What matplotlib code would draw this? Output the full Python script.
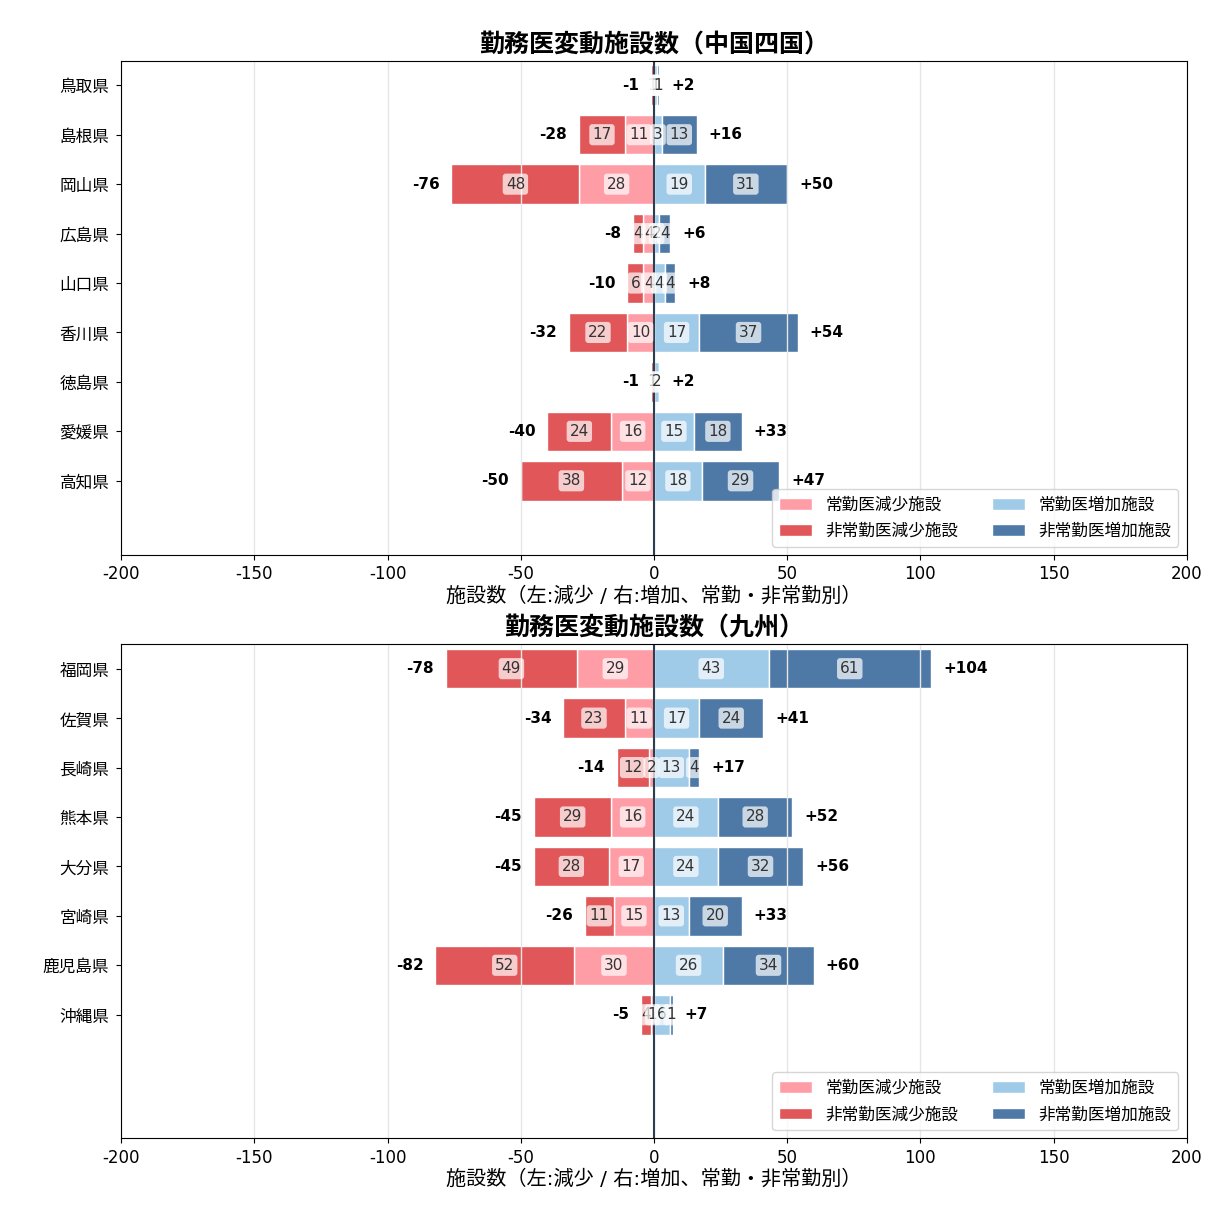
import numpy as np
import matplotlib
matplotlib.use('Agg')
import matplotlib.pyplot as plt

plt.rcParams['font.family'] = ['DejaVu Sans', 'Noto Sans CJK JP']
plt.rcParams['axes.unicode_minus'] = False

# %% data
cs_prefs = ['鳥取県', '島根県', '岡山県', '広島県', '山口県', '香川県', '徳島県', '愛媛県', '高知県']
cs_reg_dec = [0, 11, 28, 4, 4, 10, 0, 16, 12]
cs_non_dec = [1, 17, 48, 4, 6, 22, 1, 24, 38]
cs_reg_inc = [1, 3, 19, 2, 4, 17, 2, 15, 18]
cs_non_inc = [1, 13, 31, 4, 4, 37, 0, 18, 29]

ky_prefs = ['福岡県', '佐賀県', '長崎県', '熊本県', '大分県', '宮崎県', '鹿児島県', '沖縄県']
ky_reg_dec = [29, 11, 2, 16, 17, 15, 30, 1]
ky_non_dec = [49, 23, 12, 29, 28, 11, 52, 4]
ky_reg_inc = [43, 17, 13, 24, 24, 13, 26, 6]
ky_non_inc = [61, 24, 4, 28, 32, 20, 34, 1]

c_reg_dec = '#FF9DA7'
c_non_dec = '#E15759'
c_reg_inc = '#A0CBE8'
c_non_inc = '#4E79A7'


def draw_panel(ax, title, prefs, reg_dec, non_dec, reg_inc, non_inc):
    y = np.arange(len(prefs))
    reg_dec = np.array(reg_dec)
    non_dec = np.array(non_dec)
    reg_inc = np.array(reg_inc)
    non_inc = np.array(non_inc)
    kw = dict(height=0.8, edgecolor='white', linewidth=1)
    ax.barh(y, -reg_dec, color=c_reg_dec, label='常勤医減少施設', **kw)
    ax.barh(y, -non_dec, left=-reg_dec, color=c_non_dec, label='非常勤医減少施設', **kw)
    ax.barh(y, reg_inc, color=c_reg_inc, label='常勤医増加施設', **kw)
    ax.barh(y, non_inc, left=reg_inc, color=c_non_inc, label='非常勤医増加施設', **kw)

    bb = dict(boxstyle='round,pad=0.2', fc='white', ec='none', alpha=0.7)
    for i in range(len(prefs)):
        segs = [(-reg_dec[i] - non_dec[i] / 2, non_dec[i]),
                (-reg_dec[i] / 2, reg_dec[i]),
                (reg_inc[i] / 2, reg_inc[i]),
                (reg_inc[i] + non_inc[i] / 2, non_inc[i])]
        for xc, v in segs:
            if v > 0:
                ax.text(xc, i, str(v), ha='center', va='center', fontsize=11,
                        color='#333333', bbox=bb)
        dec = reg_dec[i] + non_dec[i]
        inc = reg_inc[i] + non_inc[i]
        ax.text(-dec - 4.5, i, f'-{dec}', ha='right', va='center',
                fontsize=11, fontweight='bold')
        ax.text(inc + 4.5, i, f'+{inc}', ha='left', va='center',
                fontsize=11, fontweight='bold')

    ax.axvline(0, color='#2C3E50', linewidth=1.5)
    ax.set_yticks(y)
    ax.set_yticklabels(prefs, fontsize=12)
    ax.set_ylim(9.5, -0.5)
    ax.set_xlim(-200, 200)
    ax.tick_params(axis='x', labelsize=12, pad=4)
    ax.tick_params(axis='y', pad=5)
    ax.grid(axis='x', color='#E6E6E6', linewidth=1)
    ax.set_xlabel('施設数（左:減少 / 右:増加、常勤・非常勤別）', fontsize=14.5,
                  labelpad=2)
    ax.set_title(title, fontsize=18, fontweight='bold', pad=6)
    ax.legend(loc='lower right', ncol=2, fontsize=12)


fig, (ax1, ax2) = plt.subplots(2, 1, figsize=(12.11, 12.11), dpi=100)
fig.subplots_adjust(left=0.1, right=0.98, top=0.95, bottom=0.06, hspace=0.18)

draw_panel(ax1, '勤務医変動施設数（中国四国）', cs_prefs,
           cs_reg_dec, cs_non_dec, cs_reg_inc, cs_non_inc)
draw_panel(ax2, '勤務医変動施設数（九州）', ky_prefs,
           ky_reg_dec, ky_non_dec, ky_reg_inc, ky_non_inc)

fig.savefig('out.png', dpi=100)
